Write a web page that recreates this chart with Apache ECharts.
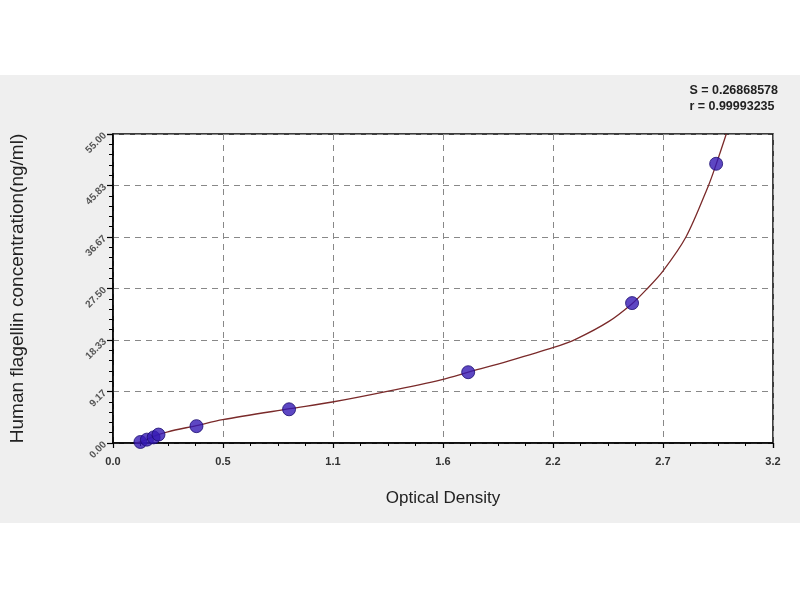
<!DOCTYPE html>
<html>
<head>
<meta charset="utf-8">
<script src="https://cdn.jsdelivr.net/npm/echarts@6/dist/echarts.min.js"></script>
<style>html,body{margin:0;padding:0;background:#fff}#c{width:800px;height:600px}</style>
</head>
<body>
<div id="c"></div>
<script>
// Standard points: optical density (x) and concentration (y)
var standardOD = [0.135, 0.167, 0.200, 0.224, 0.411, 0.867, 1.749, 2.556, 2.970];
var standardConc = [0.18, 0.6, 1.0, 1.5, 3.0, 6.0, 12.6, 24.9, 49.7];
// Fitted curve
var curveOD = [0.11, 0.135, 0.22, 0.27, 0.41, 0.54, 0.87, 1.08, 1.35, 1.62, 1.75, 1.95, 2.17, 2.28, 2.44, 2.556, 2.626, 2.708, 2.822, 2.932, 2.97, 3.02];
var curveConc = [0.0, 0.2, 1.45, 2.0, 3.1, 4.15, 6.1, 7.3, 9.2, 11.3, 12.6, 14.6, 17.0, 18.5, 21.6, 24.8, 27.3, 30.6, 36.7, 45.8, 49.6, 55.0];
// Tick labels
var xTickLabels = ['0.0', '0.5', '1.1', '1.6', '2.2', '2.7', '3.2'];
var yTickLabels = ['0.00', '9.17', '18.33', '27.50', '36.67', '45.83', '55.00'];
var statLines = ['S = 0.26868578', 'r = 0.99993235'];

var xMax = 3.25, yMax = 55;
var xInt = xMax / 6, yInt = yMax / 6;

var chart = echarts.init(document.getElementById('c'));
chart.setOption({
  backgroundColor: '#ffffff',
  animation: false,
  graphic: [
    {type: 'rect', z: -10, silent: true, shape: {x: 0, y: 75, width: 800, height: 448}, style: {fill: '#efefef'}},
    {type: 'text', right: 22, top: 83, z: 10, style: {text: statLines.join('\n'), align: 'right', font: 'bold 12.5px Arial, "Liberation Sans", sans-serif', fill: '#222', lineHeight: 16}}
  ],
  grid: {left: 109, right: 27, top: 134, bottom: 157, show: true, backgroundColor: '#ffffff', borderColor: '#000', borderWidth: 1.5},
  xAxis: {
    type: 'value', min: 0, max: xMax, interval: xInt,
    name: 'Optical Density', nameLocation: 'middle', nameGap: 47,
    nameTextStyle: {fontFamily: 'Arial, "Liberation Sans", sans-serif', fontSize: 17, color: '#222'},
    axisLine: {show: true, onZero: false, lineStyle: {color: '#000', width: 1.5}},
    axisTick: {show: true, length: 5, lineStyle: {color: '#000', width: 1.2}},
    minorTick: {show: true, splitNumber: 4, length: 3, lineStyle: {color: '#000', width: 1}},
    axisLabel: {margin: 13, fontFamily: 'Arial, "Liberation Sans", sans-serif', fontSize: 11, fontWeight: 'bold', color: '#333',
      formatter: function (v) { return xTickLabels[Math.round(v / xInt)]; }},
    splitLine: {show: true, lineStyle: {color: '#888', type: [6, 5], width: 1}}
  },
  yAxis: {
    type: 'value', min: 0, max: yMax, interval: yInt,
    name: 'Human flagellin concentration(ng/ml)', nameLocation: 'middle', nameGap: 86,
    nameTextStyle: {fontFamily: 'Arial, "Liberation Sans", sans-serif', fontSize: 19, color: '#222'},
    axisLine: {show: true, onZero: false, lineStyle: {color: '#000', width: 1.5}},
    axisTick: {show: true, length: 6, lineStyle: {color: '#000', width: 1.2}},
    minorTick: {show: true, splitNumber: 5, length: 4, lineStyle: {color: '#000', width: 1}},
    axisLabel: {margin: 8, rotate: 45, fontFamily: 'Arial, "Liberation Sans", sans-serif', fontSize: 10, fontWeight: 'bold', color: '#555',
      formatter: function (v) { return yTickLabels[Math.round(v / yInt)]; }},
    splitLine: {show: true, lineStyle: {color: '#888', type: [6, 5], width: 1}}
  },
  series: [
    {
      type: 'line', name: 'fit', smooth: 0.3, showSymbol: false, clip: true,
      data: curveOD.map(function (x, i) { return [x, curveConc[i]]; }),
      lineStyle: {color: '#7a2a2a', width: 1.3}, z: 2
    },
    {
      type: 'scatter', name: 'standards', symbol: 'circle', symbolSize: 13,
      data: standardOD.map(function (x, i) { return [x, standardConc[i]]; }),
      itemStyle: {color: '#3519b4', borderColor: '#1c0c70', borderWidth: 1}, z: 3
    }
  ]
});
</script>
</body>
</html>
